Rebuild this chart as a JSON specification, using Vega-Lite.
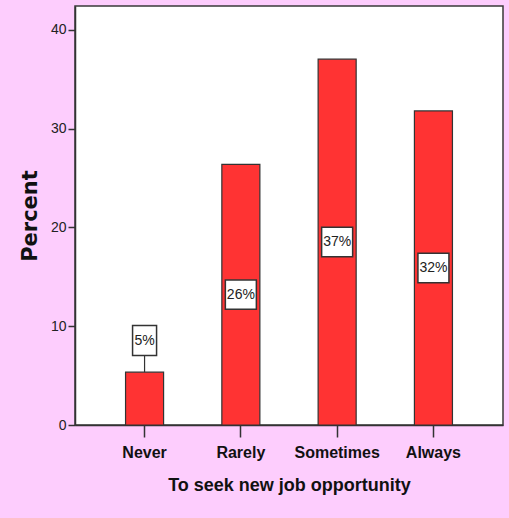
{
  "$schema": "https://vega.github.io/schema/vega-lite/v6.json",
  "width": 428,
  "height": 419,
  "autosize": {"type": "none"},
  "padding": {"left": 75, "top": 6, "right": 6, "bottom": 93},
  "background": "#fdcdfd",
  "config": {
    "view": {"stroke": "#3a3a3a", "strokeWidth": 1.5, "fill": "white"},
    "axis": {"grid": false}
  },
  "data": {
    "values": [
      {"cat": "Never", "value": 5.35, "label": "5%"},
      {"cat": "Rarely", "value": 26.4, "label": "26%"},
      {"cat": "Sometimes", "value": 37.05, "label": "37%"},
      {"cat": "Always", "value": 31.8, "label": "32%"}
    ]
  },
  "transform": [
    {"calculate": "datum.cat === 'Never' ? datum.value + 3.2 : datum.value / 2", "as": "labelY"}
  ],
  "encoding": {
    "x": {
      "field": "cat",
      "type": "nominal",
      "sort": ["Never", "Rarely", "Sometimes", "Always"],
      "scale": {"paddingInner": 0.605, "paddingOuter": 0.525},
      "axis": {
        "title": "To seek new job opportunity",
        "titleFont": "Liberation Sans",
        "titleFontSize": 18,
        "titleFontWeight": "bold",
        "titleColor": "#111",
        "titlePadding": 16,
        "labelFont": "Liberation Sans",
        "labelFontSize": 16,
        "labelFontWeight": "bold",
        "labelColor": "#111",
        "labelAngle": 0,
        "labelPadding": 7,
        "tickSize": 12,
        "tickColor": "#333",
        "tickWidth": 1.5,
        "domainColor": "#333",
        "domainWidth": 1.5
      }
    }
  },
  "layer": [
    {
      "mark": {"type": "bar", "fill": "#ff3333", "stroke": "#333", "strokeWidth": 1.2},
      "encoding": {
        "y": {
          "field": "value",
          "type": "quantitative",
          "scale": {"domain": [0, 42.43], "nice": false},
          "axis": {
            "title": "Percent",
            "values": [0, 10, 20, 30, 40],
            "titleFont": "DejaVu Sans",
            "titleFontSize": 21,
            "titleFontWeight": "bold",
            "titleColor": "#111",
            "titlePadding": 10,
            "labelFont": "Liberation Sans",
            "labelFontSize": 14,
            "labelColor": "#222",
            "labelPadding": 2,
            "tickSize": 7,
            "tickColor": "#333",
            "tickWidth": 1.5,
            "domainColor": "#333",
            "domainWidth": 1.5
          }
        }
      }
    },
    {
      "transform": [{"filter": "datum.cat === 'Never'"}],
      "mark": {"type": "rule", "stroke": "#333", "strokeWidth": 1.2},
      "encoding": {
        "y": {"field": "value", "type": "quantitative"},
        "y2": {"field": "labelY"}
      }
    },
    {
      "transform": [{"filter": "datum.cat !== 'Never'"}],
      "mark": {"type": "point", "filled": true, "fill": "white", "stroke": "#333", "strokeWidth": 1.5, "opacity": 1, "shape": "M-1,-0.95H1V0.95H-1Z", "size": 961},
      "encoding": {
        "y": {"field": "labelY", "type": "quantitative"}
      }
    },
    {
      "transform": [{"filter": "datum.cat === 'Never'"}],
      "mark": {"type": "point", "filled": true, "fill": "white", "stroke": "#333", "strokeWidth": 1.5, "opacity": 1, "shape": "M-1,-1.25H1V1.25H-1Z", "size": 576},
      "encoding": {
        "y": {"field": "labelY", "type": "quantitative"}
      }
    },
    {
      "mark": {"type": "text", "font": "Liberation Sans", "fontSize": 14, "color": "#222", "baseline": "middle", "align": "center"},
      "encoding": {
        "y": {"field": "labelY", "type": "quantitative"},
        "text": {"field": "label"}
      }
    }
  ]
}
